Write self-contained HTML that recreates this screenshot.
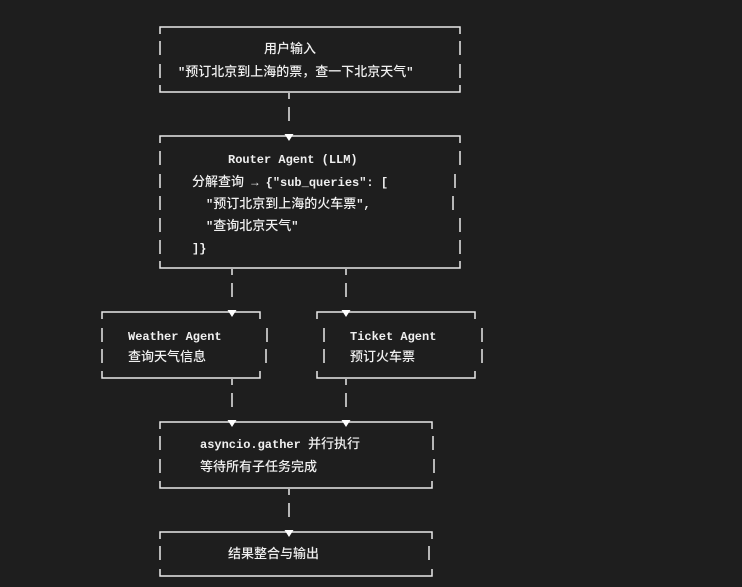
<!DOCTYPE html>
<html><head><meta charset="utf-8"><style>
body{margin:0;background:#1e1e1e;width:742px;height:587px;overflow:hidden}
svg{position:absolute;left:0;top:0}
text{font-family:"Liberation Mono","Noto Sans CJK SC",monospace;font-size:12px;fill:#f0f0f0;font-weight:bold}
tspan.c{font-family:"Liberation Sans","Noto Sans CJK SC",sans-serif;font-size:13px;font-weight:500}
.l{stroke:#e8e8e8;stroke-width:1.5;fill:none}
</style></head><body>
<svg width="742" height="587">
<g class="l">
<path d="M160 34V27H460V34M160 85V92H460V85"/>
<path d="M160 41V55M160 64V78M460 41V55M460 64V78"/>
<path d="M160 143V136H460V143M160 261V268H460V261"/>
<path d="M160 151V165M160 174V188M160 196V210M160 218V232M160 240V254M460 151V165M455 174V188M453 196V210M460 218V232M460 240V254"/>
<path d="M102 319V312H260V319M102 371V378H260V371"/>
<path d="M102 328V342M102 349V363M267 328V342M266 349V363"/>
<path d="M317 319V312H475V319M317 371V378H475V371"/>
<path d="M324 328V342M324 349V363M482 328V342M482 349V363"/>
<path d="M160 429V422H432V429M160 481V488H432V481"/>
<path d="M160 436V450M160 459V473M433 436V450M434 459V473"/>
<path d="M160 539V532H432V539M160 569V576H432V569"/>
<path d="M160 546V560M429 546V560"/>
<path d="M289 93V99M289 107V121"/>
<path d="M232 269V275M232 283V297M346 269V275M346 283V297"/>
<path d="M232 379V385M232 393V407M346 379V385M346 393V407"/>
<path d="M289 489V495M289 503V517"/>
</g>
<g fill="#fff">
<path d="M284.5 134H293.5L289 141Z"/>
<path d="M227.5 310H236.5L232 317Z"/>
<path d="M341.5 310H350.5L346 317Z"/>
<path d="M227.5 420H236.5L232 427Z"/>
<path d="M341.5 420H350.5L346 427Z"/>
<path d="M284.5 530H293.5L289 537Z"/>
</g>
<text x="264" y="53"><tspan class="c">用户输入</tspan></text>
<text x="178" y="76">"<tspan class="c">预订北京到上海的票，查一下北京天气</tspan>"</text>
<text x="228" y="163">Router Agent (LLM)</text>
<text x="192" y="186"><tspan class="c">分解查询</tspan> → {"sub_queries": [</text>
<text x="206" y="208">"<tspan class="c">预订北京到上海的火车票</tspan>",</text>
<text x="206" y="230">"<tspan class="c">查询北京天气</tspan>"</text>
<text x="192" y="252">]}</text>
<text x="128" y="340">Weather Agent</text>
<text x="128" y="361"><tspan class="c">查询天气信息</tspan></text>
<text x="350" y="340">Ticket Agent</text>
<text x="350" y="361"><tspan class="c">预订火车票</tspan></text>
<text x="200" y="448">asyncio.gather <tspan class="c">并行执行</tspan></text>
<text x="200" y="471"><tspan class="c">等待所有子任务完成</tspan></text>
<text x="228" y="558"><tspan class="c">结果整合与输出</tspan></text>
</svg>
</body></html>
